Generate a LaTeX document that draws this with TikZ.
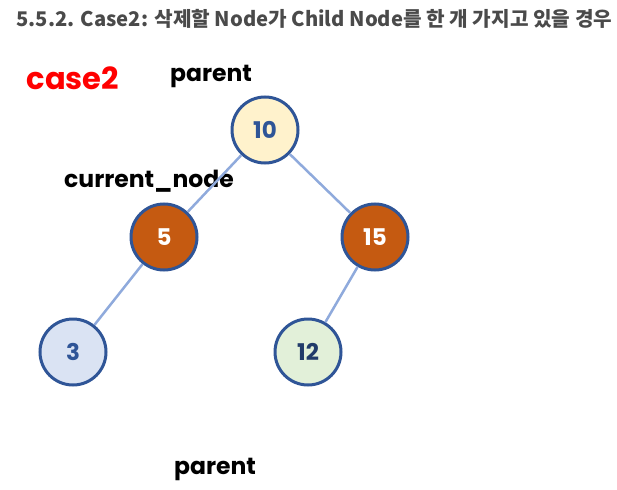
\documentclass[tikz,border=0pt]{standalone}
\usepackage{fontspec}
\setmainfont{Poppins}
\newfontfamily\krfont{Noto Sans CJK KR}
\definecolor{ring}{HTML}{2F5597}
\definecolor{edgeblue}{HTML}{8FAADC}
\definecolor{rust}{HTML}{C55A11}
\definecolor{cream}{HTML}{FFF2CC}
\definecolor{paleblue}{HTML}{DAE3F3}
\definecolor{palegreen}{HTML}{E2F0D9}
\definecolor{titlegray}{HTML}{4A4A4A}
\begin{document}
\begin{tikzpicture}[x=1pt,y=-1pt,
    tnode/.style={draw=ring,circle,line width=3pt,minimum size=66pt,inner sep=0pt,
      font=\fontsize{23}{23}\selectfont\bfseries,text=ring},
    hot/.style={tnode,fill=rust,text=white},
    link/.style={draw=edgeblue,line width=2.5pt},
    tag/.style={font=\fontsize{23.5}{23.5}\selectfont\bfseries,text=black}]
      \useasboundingbox (0,0) rectangle (617,489);
      \node[anchor=west,text=titlegray,font=\krfont\fontsize{20.2}{20.2}\selectfont\bfseries] (title) at (13,19) {5.5.2. Case2: 삭제할 Node가 Child Node를 한 개 가지고 있을 경우};
      \node[text=red,font=\fontsize{30.5}{30.5}\selectfont\bfseries] (case) at (73,78) {case2};
      \node[tag] (ptop) at (211,76) {parent};
      \node[tag] (cur) at (149,181) {current\_node};
      \node[tag] (pbot) at (215,469) {parent};
      \node[tnode,fill=cream] (n10) at (265,130) {10};
      \node[hot] (n5) at (164,237) {5};
      \node[hot] (n15) at (375,237) {15};
      \node[tnode,fill=paleblue] (n3) at (73,352) {3};
      \node[tnode,fill=palegreen,text=ring!70!black] (n12) at (308,352) {12};
      \draw[link] (n10) -- (n5);
      \draw[link] (n10) -- (n15);
      \draw[link] (n5) -- (n3);
      \draw[link] (n15) -- (n12);
    \end{tikzpicture}
\end{document}
